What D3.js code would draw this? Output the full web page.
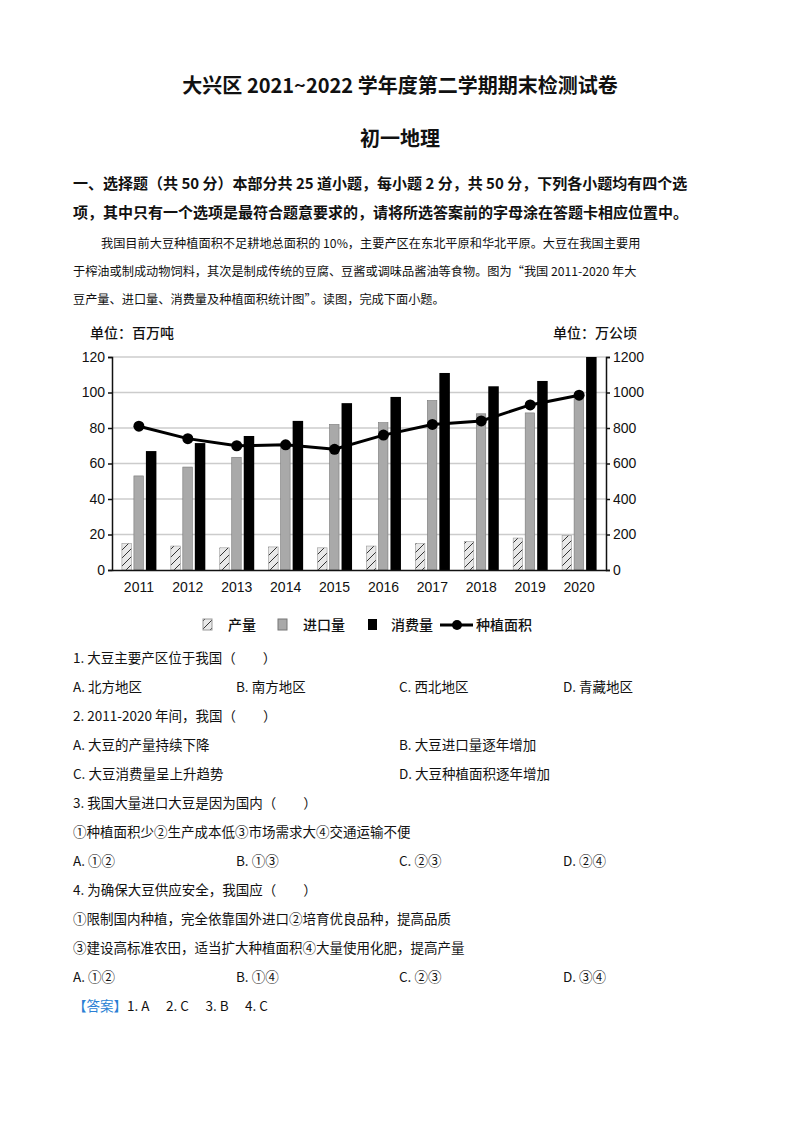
<!DOCTYPE html>
<html><head><meta charset="utf-8">
<script src="https://cdn.jsdelivr.net/npm/d3@7"></script>
<style>body{margin:0;background:#fff}</style></head>
<body><svg id="c" width="800" height="1132"></svg>
<script>
const years=["2011","2012","2013","2014","2015","2016","2017","2018","2019","2020"];
const production=[15,13.5,12.5,13,12.5,13.5,15,16,18,19.5];
const imports=[53,58,63.5,70,82,83,95.5,88,88.5,98];
const consumption=[67,71.5,75.5,84,94,97.5,111,103.5,106.5,120];
const area=[810,740,700,705,680,760,820,840,930,985];
const leftTicks=[0,20,40,60,80,100,120];
const rightTicks=[0,200,400,600,800,1000,1200];

const svg=d3.select("#c");
const F="'Noto Sans CJK SC','Noto Sans',sans-serif";
const T=(x,y,s,size,w,anchor)=>svg.append("text").attr("x",x).attr("y",y).text(s).attr("font-family",F).attr("font-size",size).attr("font-weight",w||400).attr("text-anchor",anchor||"start").attr("fill","#111");
T(400,93,"大兴区 2021~2022 学年度第二学期期末检测试卷",20,700,"middle");
T(400,146,"初一地理",20,700,"middle");
T(73,189,"一、选择题（共 50 分）本部分共 25 道小题，每小题 2 分，共 50 分，下列各小题均有四个选",15,700);
T(73,218,"项，其中只有一个选项是最符合题意要求的，请将所选答案前的字母涂在答题卡相应位置中。",15,700);
T(101,248,"我国目前大豆种植面积不足耕地总面积的 10%，主要产区在东北平原和华北平原。大豆在我国主要用",12.2);
T(73,276,"于榨油或制成动物饲料，其次是制成传统的豆腐、豆酱或调味品酱油等食物。图为“我国 2011-2020 年大",12.2);
T(73,304,"豆产量、进口量、消费量及种植面积统计图”。读图，完成下面小题。",12.2);

const x0=112,x1=606,yT=357,yB=570;
const x=d3.scaleBand().domain(years).range([x0,x1]).paddingInner(0).paddingOuter(0.05);
const yL=d3.scaleLinear().domain([0,120]).range([yB,yT]);
const yR=d3.scaleLinear().domain([0,1200]).range([yB,yT]);
T(90,338,"单位：百万吨",14,500);T(637,338,"单位：万公顷",14,500,"end");
svg.append("g").selectAll("line").data(leftTicks.slice(1)).join("line").attr("x1",x0).attr("x2",x1).attr("y1",d=>yL(d)).attr("y2",d=>yL(d)).attr("stroke","#ccc").attr("stroke-width",1.5);
const defs=svg.append("defs");
const p=defs.append("pattern").attr("id","h").attr("width",8).attr("height",8).attr("patternUnits","userSpaceOnUse");
p.append("rect").attr("width",8).attr("height",8).attr("fill","#e8e8e8");
p.append("path").attr("d","M0,8L8,0").attr("stroke","#333").attr("stroke-width",1);
const bw=9.5;
const g=svg.append("g");
years.forEach((yr,i)=>{
 const c=x(yr)+x.bandwidth()/2;
 g.append("rect").attr("x",c-17).attr("y",yL(production[i])).attr("width",bw).attr("height",yB-yL(production[i])).attr("fill","url(#h)").attr("stroke","#999").attr("stroke-width",0.6);
 g.append("rect").attr("x",c-5).attr("y",yL(imports[i])).attr("width",bw).attr("height",yB-yL(imports[i])).attr("fill","#a9a9a9").attr("stroke","#777").attr("stroke-width",0.6);
 g.append("rect").attr("x",c+7).attr("y",yL(consumption[i])).attr("width",bw+1).attr("height",yB-yL(consumption[i])).attr("fill","#000");
});
const ax=svg.append("g").attr("font-family",F);
ax.append("g").attr("transform",`translate(${x0},0)`).call(d3.axisLeft(yL).tickValues(leftTicks).tickSize(4)).call(s=>{s.selectAll("text").attr("font-size",14).attr("font-family","Liberation Sans, Arial").attr("fill","#111");s.selectAll("path,line").attr("stroke","#111").attr("stroke-width",1.5);});
ax.append("g").attr("transform",`translate(${x1},0)`).call(d3.axisRight(yR).tickValues(rightTicks).tickFormat(d3.format("d")).tickSize(4)).call(s=>{s.selectAll("text").attr("font-size",14).attr("font-family","Liberation Sans, Arial").attr("fill","#111");s.selectAll("path,line").attr("stroke","#111").attr("stroke-width",1.5);});
ax.append("g").attr("transform",`translate(0,${yB})`).call(d3.axisBottom(x).tickSize(0).tickPadding(12)).call(s=>{s.selectAll("text").attr("font-size",14).attr("font-family","Liberation Sans, Arial").attr("fill","#111");s.select("path").attr("stroke","#111").attr("stroke-width",1.5);});
const lx=(d,i)=>x(years[i])+x.bandwidth()/2;
svg.append("path").datum(area).attr("d",d3.line().x(lx).y(d=>yR(d))).attr("fill","none").attr("stroke","#000").attr("stroke-width",3);
svg.selectAll(".pt").data(area).join("circle").attr("cx",lx).attr("cy",d=>yR(d)).attr("r",5.5).attr("fill","#000");
const ly=625;
svg.append("rect").attr("x",203).attr("y",ly-6).attr("width",9).attr("height",11).attr("fill","url(#h)").attr("stroke","#999");
T(228,ly+5,"产量",14,500);
svg.append("rect").attr("x",278).attr("y",ly-6).attr("width",9).attr("height",11).attr("fill","#a9a9a9").attr("stroke","#777");
T(303,ly+5,"进口量",14,500);
svg.append("rect").attr("x",368).attr("y",ly-6).attr("width",9).attr("height",11).attr("fill","#000");
T(391,ly+5,"消费量",14,500);
svg.append("line").attr("x1",440).attr("x2",473).attr("y1",ly).attr("y2",ly).attr("stroke","#000").attr("stroke-width",3);
svg.append("circle").attr("cx",457).attr("cy",ly).attr("r",5).attr("fill","#000");
T(476,ly+5,"种植面积",14,500);

const q=[[73,663,"1. 大豆主要产区位于我国（　　）"],[73,692,"A. 北方地区"],[236,692,"B. 南方地区"],[399,692,"C. 西北地区"],[563,692,"D. 青藏地区"],
[73,721,"2. 2011-2020 年间，我国（　　）"],[73,750,"A. 大豆的产量持续下降"],[399,750,"B. 大豆进口量逐年增加"],[73,779,"C. 大豆消费量呈上升趋势"],[399,779,"D. 大豆种植面积逐年增加"],
[73,808,"3. 我国大量进口大豆是因为国内（　　）"],[73,837,"①种植面积少②生产成本低③市场需求大④交通运输不便"],[73,866,"A. ①②"],[236,866,"B. ①③"],[399,866,"C. ②③"],[563,866,"D. ②④"],
[73,895,"4. 为确保大豆供应安全，我国应（　　）"],[73,924,"①限制国内种植，完全依靠国外进口②培育优良品种，提高品质"],[73,953,"③建设高标准农田，适当扩大种植面积④大量使用化肥，提高产量"],[73,982,"A. ①②"],[236,982,"B. ①④"],[399,982,"C. ②③"],[563,982,"D. ③④"]];
q.forEach(d=>T(d[0],d[1],d[2],13.5));
svg.append("text").attr("x",73).attr("y",1011).attr("font-family",F).attr("font-size",13.5).html('<tspan fill="#2a7fd4">【答案】</tspan><tspan fill="#111">1. A　  2. C　  3. B　  4. C</tspan>');
</script></body></html>
